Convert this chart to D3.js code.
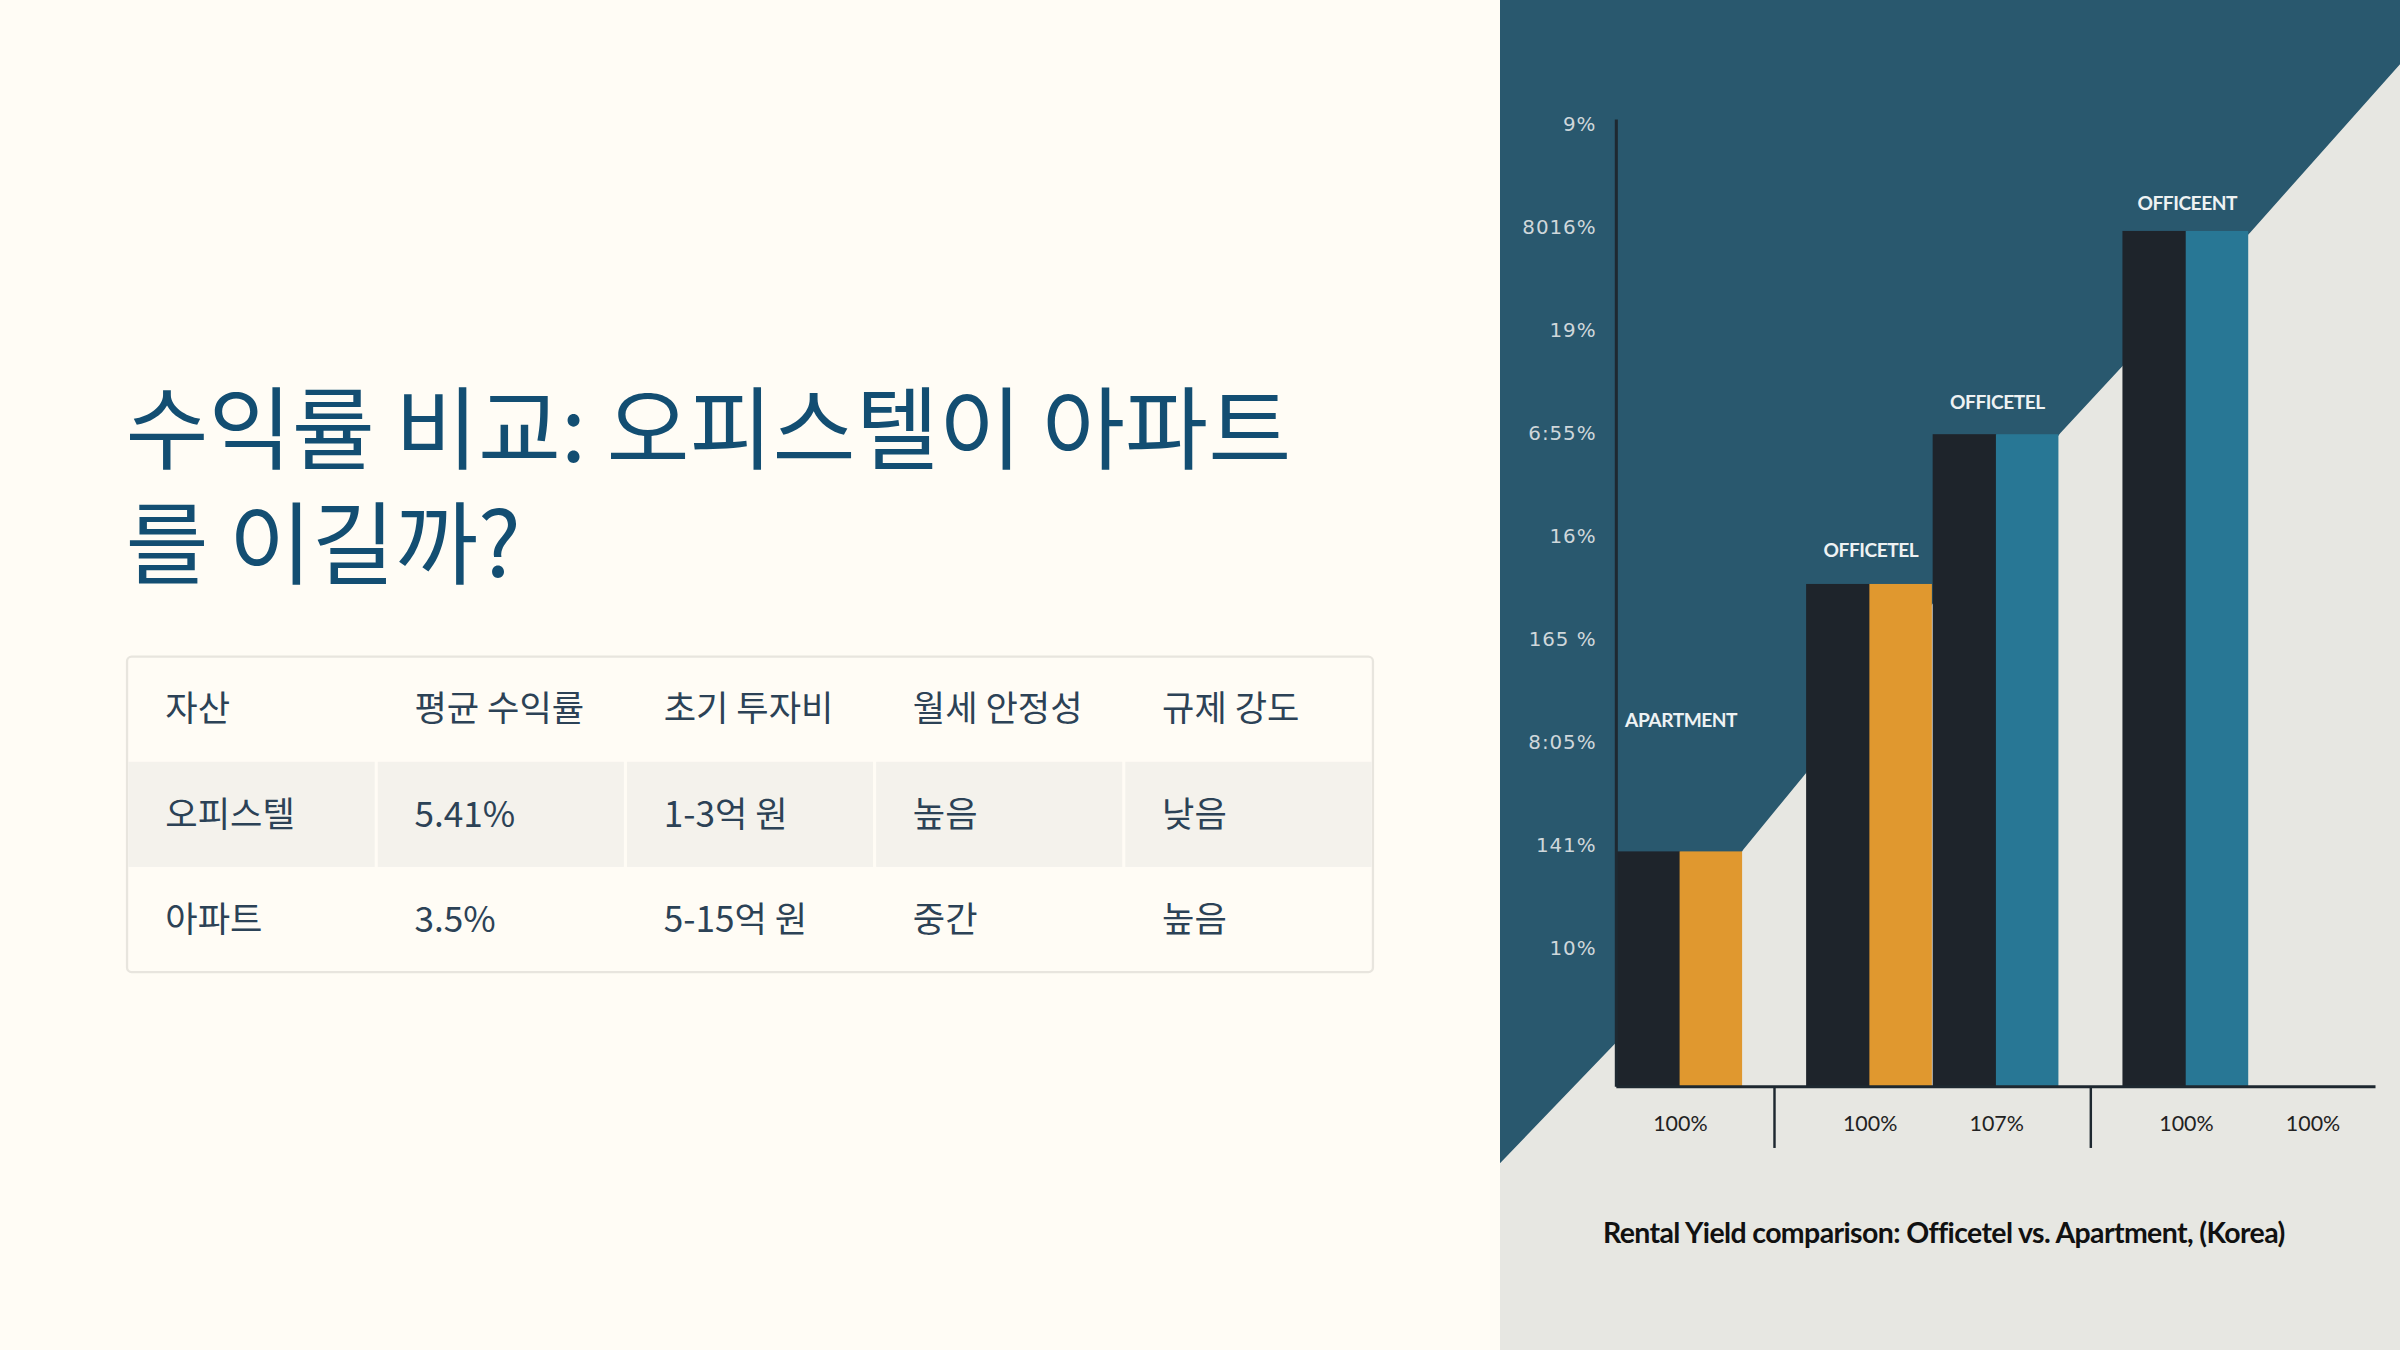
<!DOCTYPE html>
<html>
<head>
<meta charset="utf-8">
<script src="https://cdn.jsdelivr.net/npm/d3@7"></script>
<style>
  html, body { margin: 0; padding: 0; background: #fffcf5; }
  svg { display: block; }
</style>
</head>
<body>
<div id="slide"></div>
<script>
// slide text
const titleLines = ["수익률 비교: 오피스텔이 아파트", "를 이길까?"];

// comparison table
const tableHeader = ["자산", "평균 수익률", "초기 투자비", "월세 안정성", "규제 강도"];
const tableRows = [
  ["오피스텔", "5.41%", "1-3억 원", "높음", "낮음"],
  ["아파트", "3.5%", "5-15억 원", "중간", "높음"]
];

// chart data (bar heights, in axis units 0..9)
const pairLabels = ["APARTMENT", "OFFICETEL", "OFFICETEL", "OFFICEENT", ""];
const darkValues = [2.2, 4.7, 6.1, 8.0, null];
const accentValues = [2.2, 4.7, 6.1, 8.0, null];
const accentKind = ["apartment", "apartment", "officetel", "officetel", "officetel"];
const labelLevel = [3.36, 4.95, 6.34, 8.2, null];
const pairSlot = [0, 3, 5, 8, 10];
const xLabels = ["100%", "100%", "107%", "100%", "100%"];
const yTickLabels = ["10%", "141%", "8:05%", "165 %", "16%", "6:55%", "19%", "8016%", "9%"];
const chartTitle = "Rental Yield comparison: Officetel vs. Apartment, (Korea)";

const W = 1568, H = 882;

const svg = d3.select("#slide").append("svg")
  .attr("width", 2400)
  .attr("height", 1350)
  .attr("viewBox", [0, 0, W, H]);

// left panel background
svg.append("rect")
  .attr("width", W).attr("height", H)
  .attr("fill", "#fffcf5");

// title
svg.append("text")
  .attr("font-family", "'Noto Sans CJK KR', 'Noto Sans', sans-serif")
  .attr("font-size", 59)
  .attr("fill", "#134e72")
  .selectAll("tspan")
  .data(titleLines)
  .join("tspan")
  .attr("x", 82)
  .attr("y", (d, i) => 302 + i * 75)
  .text(d => d);

// table
const tbl = { x: 83, y: 429, w: 814, rowH: 68.7 };
const colX = d3.scaleBand().domain(d3.range(tableHeader.length)).range([tbl.x, tbl.x + tbl.w]);
const rowY = d3.scaleBand().domain(d3.range(tableRows.length + 1)).range([tbl.y, tbl.y + tbl.rowH * 3]);

const table = svg.append("g")
  .attr("font-family", "'Noto Sans CJK KR', 'Noto Sans', sans-serif")
  .attr("font-size", 23)
  .attr("fill", "#2c4256");

table.append("rect")
  .attr("x", tbl.x).attr("y", tbl.y)
  .attr("width", tbl.w).attr("height", tbl.rowH * 3)
  .attr("rx", 3)
  .attr("fill", "#fffcf5")
  .attr("stroke", "#e8e5de")
  .attr("stroke-width", 1.5);

// shaded first data row, cells split by thin gaps
table.selectAll("rect.cell")
  .data(tableRows[0].map((d, i) => i))
  .join("rect")
  .attr("class", "cell")
  .attr("x", i => colX(i) + (i === 0 ? 0.8 : 1))
  .attr("y", rowY(1))
  .attr("width", i => colX.bandwidth() - (i === 0 ? 1.8 : 2) - (i === tableHeader.length - 1 ? -0.2 : 0))
  .attr("height", rowY.bandwidth())
  .attr("fill", "#f4f2ec");

const allRows = [tableHeader, ...tableRows];
allRows.forEach((row, r) => {
  table.selectAll(null)
    .data(row)
    .join("text")
    .attr("x", (d, i) => colX(i) + 25)
    .attr("y", rowY(r) + rowY.bandwidth() / 2 + 8)
    .text(d => d);
});

// right panel: chart
const panelX = 980;
svg.append("rect")
  .attr("x", panelX).attr("y", 0)
  .attr("width", W - panelX).attr("height", H)
  .attr("fill", "#e7e7e2");

const x = d3.scaleLinear().domain([0, 12]).range([1056, 1552]);
const y = d3.scaleLinear().domain([0, 9]).range([710, 81]);
const yTicks = d3.scalePoint().domain(yTickLabels).range([619, 81]);
const accentColor = d3.scaleOrdinal()
  .domain(["apartment", "officetel"])
  .range(["#e0982f", "#287795"]);

// dark backdrop with a stepped diagonal edge
const backdrop = [
  [panelX, 0], [W, 0], [W, 42], [1470, 152], [1386, 240], [1346, 283],
  [1180, 505], [1139, 555], [1056, 681], [panelX, 760]
];
svg.append("path")
  .attr("d", d3.line()(backdrop) + "Z")
  .attr("fill", "#29586e");

const chart = svg.append("g");

const pairs = pairLabels.map((label, i) => ({
  label, slot: pairSlot[i], dark: darkValues[i], accent: accentValues[i],
  kind: accentKind[i], level: labelLevel[i], xLabel: xLabels[i]
}));
const filled = pairs.filter(d => d.dark != null);

chart.selectAll("rect.dark")
  .data(filled)
  .join("rect")
  .attr("class", "dark")
  .attr("x", d => x(d.slot))
  .attr("y", d => y(d.dark))
  .attr("width", d => x(d.slot + 1) - x(d.slot) + 0.5)
  .attr("height", d => y(0) - y(d.dark))
  .attr("fill", "#1e242b");

chart.selectAll("rect.accent")
  .data(filled)
  .join("rect")
  .attr("class", "accent")
  .attr("x", d => x(d.slot + 1))
  .attr("y", d => y(d.accent))
  .attr("width", d => x(d.slot + 2) - x(d.slot + 1) - 0.5)
  .attr("height", d => y(0) - y(d.accent))
  .attr("fill", d => accentColor(d.kind));

// bar labels
chart.selectAll("text.barlabel")
  .data(filled)
  .join("text")
  .attr("class", "barlabel")
  .attr("x", d => x(d.slot + 1) + 1)
  .attr("y", d => y(d.level))
  .attr("text-anchor", "middle")
  .attr("font-family", "Lato, 'Open Sans', sans-serif")
  .attr("font-weight", 700)
  .attr("font-size", 12.5)
  .attr("letter-spacing", -0.3)
  .attr("fill", "#eef2f3")
  .text(d => d.label);

// y axis
const yAxis = chart.append("g")
  .attr("transform", `translate(${x(0)},0)`)
  .call(d3.axisLeft(yTicks).tickSize(0).tickPadding(13));
yAxis.select(".domain").remove();
yAxis.selectAll("text")
  .attr("font-family", "'DejaVu Sans', sans-serif")
  .attr("font-size", 13)
  .attr("letter-spacing", 0.6)
  .attr("fill", "#cfd7db");
chart.append("line")
  .attr("x1", x(0)).attr("x2", x(0))
  .attr("y1", 78).attr("y2", y(0))
  .attr("stroke", "#1e2830")
  .attr("stroke-width", 2);

// x axis
const xAxis = chart.append("g")
  .attr("transform", `translate(0,${y(0)})`)
  .call(d3.axisBottom(x)
    .tickValues(pairs.map(d => d.slot + 1))
    .tickFormat((d, i) => pairs[i].xLabel)
    .tickSize(0)
    .tickPadding(19));
xAxis.select(".domain").remove();
xAxis.selectAll("text")
  .attr("font-family", "Lato, 'Open Sans', sans-serif")
  .attr("font-size", 14)
  .attr("fill", "#222");
chart.append("line")
  .attr("x1", x(0)).attr("x2", x(12))
  .attr("y1", y(0)).attr("y2", y(0))
  .attr("stroke", "#1e2830")
  .attr("stroke-width", 2);

// group separators between pairs 1|2 and 3|4
const separators = [[0, 1], [2, 3]].map(([a, b]) => (x(pairs[a].slot + 2) + x(pairs[b].slot)) / 2);
chart.selectAll("line.sep")
  .data(separators)
  .join("line")
  .attr("class", "sep")
  .attr("x1", d => d).attr("x2", d => d)
  .attr("y1", y(0)).attr("y2", y(0) + 40)
  .attr("stroke", "#1e2830")
  .attr("stroke-width", 1.6);

// chart title
svg.append("text")
  .attr("x", 1270)
  .attr("y", 812)
  .attr("text-anchor", "middle")
  .attr("font-family", "Lato, 'Open Sans', sans-serif")
  .attr("font-weight", 700)
  .attr("font-size", 18.6)
  .attr("letter-spacing", -0.4)
  .attr("fill", "#111")
  .text(chartTitle);
</script>
</body>
</html>
